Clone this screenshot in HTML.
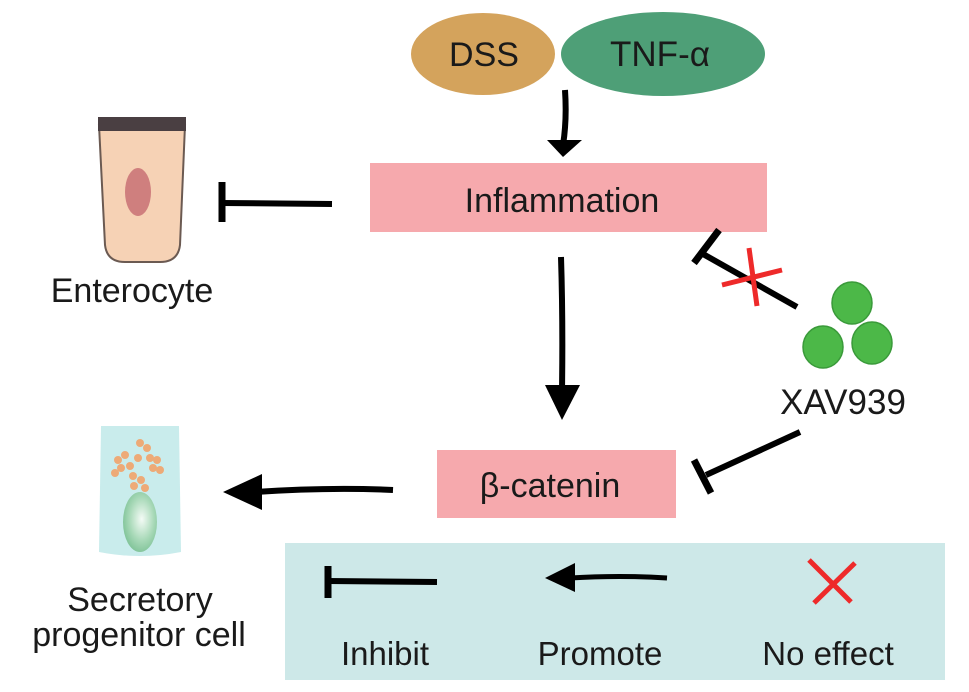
<!DOCTYPE html>
<html><head><meta charset="utf-8"><style>
html,body{margin:0;padding:0;background:#fff}
svg{display:block}
text{font-family:"Liberation Sans",sans-serif;fill:#1a1a1a}
</style></head><body>
<svg width="969" height="692" viewBox="0 0 969 692" xmlns="http://www.w3.org/2000/svg">
<defs>
<radialGradient id="nuc" cx="0.55" cy="0.45" r="0.6">
<stop offset="0" stop-color="#f4fbf6"/><stop offset="0.6" stop-color="#a8d9b8"/><stop offset="1" stop-color="#7cc195"/>
</radialGradient>
</defs>
<ellipse cx="483" cy="54" rx="72" ry="41" fill="#d4a35c"/>
<ellipse cx="663" cy="54" rx="102" ry="42" fill="#4e9f77"/>
<text x="484" y="66" font-size="34" text-anchor="middle">DSS</text>
<text x="660" y="66" font-size="35" text-anchor="middle">TNF-α</text>
<path d="M565 90 Q567 120 563 145" stroke="#000" stroke-width="6" fill="none"/>
<polygon points="547,140 582,140 563,157" fill="#000"/>
<rect x="370" y="163" width="397" height="69" fill="#f6a9ad"/>
<text x="562" y="212" font-size="34" text-anchor="middle">Inflammation</text>
<line x1="332" y1="204" x2="222" y2="203" stroke="#000" stroke-width="6"/>
<line x1="222" y1="182" x2="222" y2="222" stroke="#000" stroke-width="7"/>
<path d="M99 125 L185 125 L180 245 Q178 262 160 262 L125 262 Q107 262 105 245 Z" fill="#f6d2b5" stroke="#6b5a52" stroke-width="2"/>
<rect x="98" y="117" width="88" height="14" fill="#4a3f42"/>
<ellipse cx="138" cy="192" rx="13" ry="24" fill="#cf7f7e"/>
<text x="132" y="302" font-size="34" text-anchor="middle">Enterocyte</text>
<path d="M561 257 Q563 320 562 390" stroke="#000" stroke-width="6" fill="none"/>
<polygon points="545,385 580,385 562,420" fill="#000"/>
<rect x="437" y="450" width="239" height="68" fill="#f6a9ad"/>
<text x="550" y="497" font-size="34" text-anchor="middle">β-catenin</text>
<path d="M393 490 Q330 487 255 492" stroke="#000" stroke-width="6" fill="none"/>
<polygon points="262,474 262,510 223,492" fill="#000"/>
<path d="M101 426 L179 426 L181 552 Q140 560 99 552 Z" fill="#c9ecec"/>
<g fill="#f2a36b" opacity="0.9">
<circle cx="118" cy="460" r="4"/><circle cx="125" cy="455" r="4"/><circle cx="121" cy="468" r="4"/><circle cx="130" cy="466" r="4"/>
<circle cx="138" cy="458" r="4"/><circle cx="140" cy="443" r="4"/><circle cx="147" cy="448" r="4"/><circle cx="150" cy="458" r="4"/>
<circle cx="157" cy="460" r="4"/><circle cx="153" cy="468" r="4"/><circle cx="133" cy="476" r="4"/><circle cx="141" cy="480" r="4"/>
<circle cx="134" cy="486" r="4"/><circle cx="145" cy="488" r="4"/><circle cx="115" cy="473" r="4"/><circle cx="160" cy="470" r="4"/>
</g>
<ellipse cx="140" cy="522" rx="17" ry="30" fill="url(#nuc)"/>
<text x="140" y="611" font-size="34" text-anchor="middle">Secretory</text>
<text x="139" y="646" font-size="34" text-anchor="middle">progenitor cell</text>
<ellipse cx="852" cy="303" rx="20" ry="21" fill="#4cb848" stroke="#3a9a3a" stroke-width="1.5"/>
<ellipse cx="823" cy="347" rx="20" ry="21" fill="#4cb848" stroke="#3a9a3a" stroke-width="1.5"/>
<ellipse cx="872" cy="343" rx="20" ry="21" fill="#4cb848" stroke="#3a9a3a" stroke-width="1.5"/>
<text x="843" y="414" font-size="35" text-anchor="middle">XAV939</text>
<line x1="797" y1="307" x2="703" y2="254" stroke="#000" stroke-width="6"/>
<line x1="694" y1="263" x2="719" y2="230" stroke="#000" stroke-width="7"/>
<line x1="722" y1="285" x2="782" y2="270" stroke="#ee2a2a" stroke-width="5"/>
<line x1="749" y1="248" x2="757" y2="306" stroke="#ee2a2a" stroke-width="5"/>
<line x1="800" y1="432" x2="706" y2="475" stroke="#000" stroke-width="6"/>
<line x1="694" y1="460" x2="711" y2="493" stroke="#000" stroke-width="7"/>
<rect x="285" y="543" width="660" height="137" fill="#cde8e8"/>
<line x1="437" y1="582" x2="328" y2="581" stroke="#000" stroke-width="6"/>
<line x1="328" y1="566" x2="328" y2="598" stroke="#000" stroke-width="7"/>
<path d="M667 578 Q620 575 570 578" stroke="#000" stroke-width="5" fill="none"/>
<polygon points="575,563 575,592 545,578" fill="#000"/>
<line x1="809" y1="560" x2="851" y2="602" stroke="#ee2a2a" stroke-width="5"/>
<line x1="855" y1="563" x2="814" y2="603" stroke="#ee2a2a" stroke-width="5"/>
<text x="385" y="665" font-size="33" text-anchor="middle">Inhibit</text>
<text x="600" y="665" font-size="33" text-anchor="middle">Promote</text>
<text x="828" y="665" font-size="33" text-anchor="middle">No effect</text>
</svg>
</body></html>
